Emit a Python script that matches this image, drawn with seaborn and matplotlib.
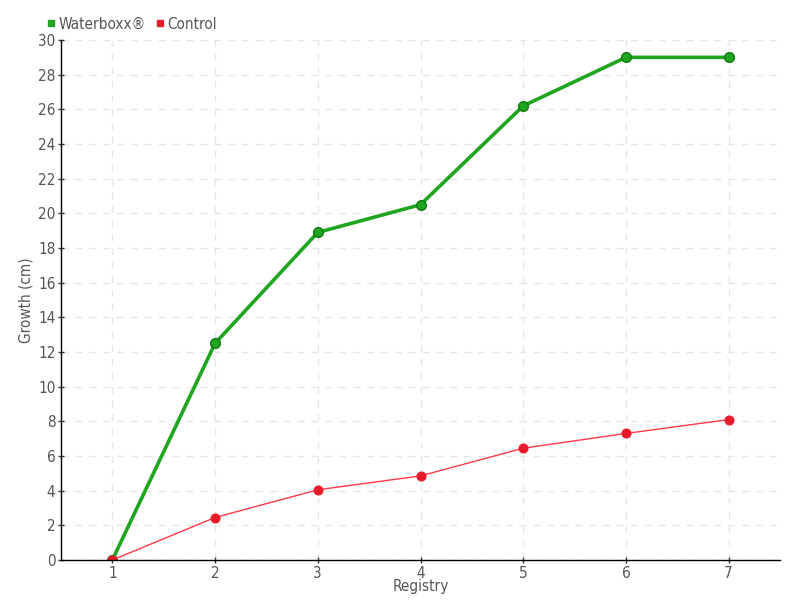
import pandas as pd
import seaborn as sns
import matplotlib.pyplot as plt
from matplotlib.lines import Line2D

# growth per registry
registry = [1, 2, 3, 4, 5, 6, 7]
waterboxx = [0, 12.5, 18.9, 20.5, 26.2, 29, 29]
control = [0, 2.45, 4.05, 4.85, 6.45, 7.3, 8.1]

df = pd.DataFrame({'Registry': registry, 'Waterboxx': waterboxx, 'Control': control})

sns.set_style('white')
plt.rcParams['font.family'] = ['DejaVu Sans']
plt.rcParams['font.stretch'] = 'condensed'

fig = plt.figure(figsize=(8, 6), dpi=100)
ax = fig.add_axes([0.07625, 0.0667, 0.89875, 0.8666])

sns.lineplot(x='Registry', y='Waterboxx', data=df, ax=ax, color='#1fa51f', linewidth=2.6,
             marker='o', markersize=7, markerfacecolor='#1fa51f', markeredgecolor='#137a13',
             markeredgewidth=1)
sns.lineplot(x='Registry', y='Control', data=df, ax=ax, color='#ff3b4a', linewidth=1,
             marker='o', markersize=6.5, markerfacecolor='#e81c2a', markeredgecolor='#e81c2a')

ax.set_xlim(0.5, 7.5)
ax.set_ylim(0, 30)
ax.set_xticks(registry)
ax.set_yticks(range(0, 31, 2))
ax.grid(True, linestyle=(0, (5, 5)), color='#e6e6e6', linewidth=1)
ax.set_axisbelow(True)

for s in ['top', 'right']:
    ax.spines[s].set_visible(False)
for s in ['left', 'bottom']:
    ax.spines[s].set_color('black')
    ax.spines[s].set_linewidth(1)

ax.tick_params(axis='both', labelsize=11, labelcolor='#555555', length=4, width=1,
               direction='inout', color='#333333', pad=2, left=True, bottom=True)
ax.set_xlabel('Registry', fontsize=11, color='#555555', labelpad=-1)
ax.set_ylabel('Growth (cm)', fontsize=11, color='#555555', labelpad=3)

handles = [Line2D([], [], linestyle='', marker='s', markersize=5, color='#1fa51f'),
           Line2D([], [], linestyle='', marker='s', markersize=5, color='#e81c2a')]
leg = fig.legend(handles, ['Waterboxx®', 'Control'], loc='upper left',
                 bbox_to_anchor=(0.045, 0.99), ncol=2, frameon=False, fontsize=11,
                 handlelength=0.6, handletextpad=0.2, columnspacing=0.6, borderpad=0.2)
for t in leg.get_texts():
    t.set_color('#555555')

plt.savefig('out.png', dpi=100)
